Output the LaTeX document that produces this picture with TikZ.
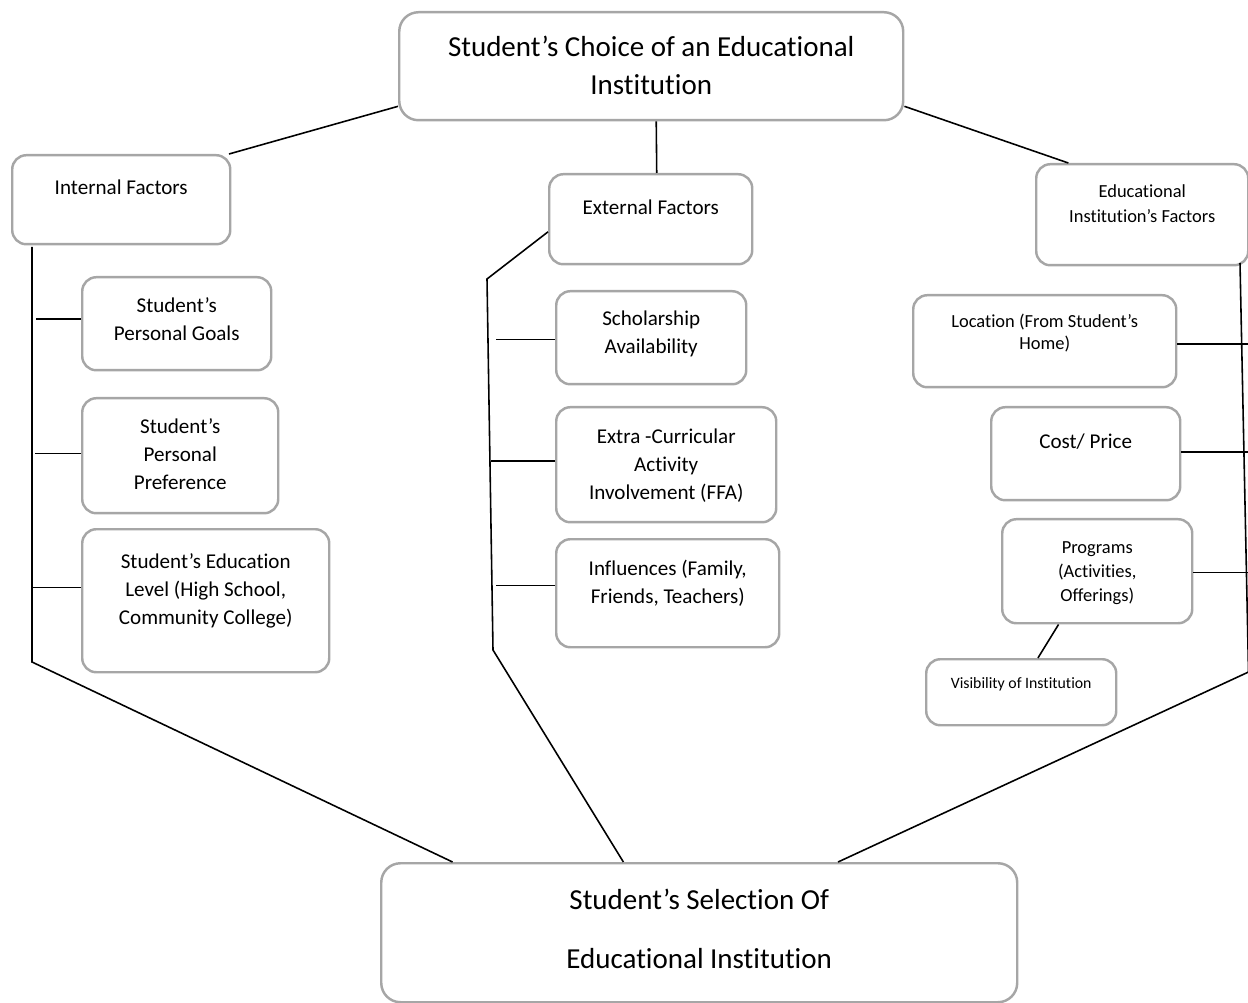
\documentclass[tikz,border=0pt]{standalone}
\usepackage{fontspec}
\setmainfont{Carlito}[Ligatures={NoCommon}]
\usetikzlibrary{calc}
\definecolor{boxgray}{HTML}{A6A6A6}
\newdimen\px
\px=0.02cm
\newcommand{\boxtext}[4]{\parbox[c][#2\px][t]{#1\px}{\centering\rule{0pt}{#3\px}#4}}
\tikzset{
  box/.style={draw=boxgray, line width=1.4pt, fill=white, rounded corners=8pt, inner sep=0pt, anchor=north west},
  bigbox/.style={box, rounded corners=11pt, font=\fontsize{16.5}{21.6}\selectfont},
  midbox/.style={box, font=\fontsize{12}{15.9}\selectfont},
  smallbox/.style={box, font=\fontsize{10.5}{13.9}\selectfont},
  link/.style={line width=0.9pt}
}
\begin{document}
\begin{tikzpicture}[x=0.02cm, y=-0.02cm]
	\useasboundingbox (0,0) rectangle (1248,1003);
	\clip (0,0) rectangle (1248,1003);
	\node[bigbox] (choice) at (398,11) {\boxtext{504}{108}{44}{Student’s Choice of an Educational\\Institution}};
	\node[midbox] (intf) at (11,154) {\boxtext{218}{89}{39}{Internal Factors}};
	\node[midbox] (extf) at (548,173) {\boxtext{203}{90}{40}{External Factors}};
	\node[smallbox, font=\fontsize{10.5}{14.2}\selectfont] (instf) at (1035,163) {\boxtext{212}{101}{33}{Educational\\Institution’s Factors}};
	\node[midbox] (goals) at (81,276) {\boxtext{189}{93}{35}{Student’s\\Personal Goals}};
	\node[midbox] (pref) at (81,397) {\boxtext{196}{115}{35}{Student’s\\Personal\\Preference}};
	\node[midbox] (level) at (81,528) {\boxtext{247}{143}{39}{Student’s Education\\Level (High School,\\Community College)}};
	\node[midbox] (schol) at (555,290) {\boxtext{190}{93}{34}{Scholarship\\Availability}};
	\node[midbox] (extra) at (555,406) {\boxtext{220}{115}{36}{Extra -Curricular\\Activity\\Involvement (FFA)}};
	\node[midbox] (infl) at (555,538) {\boxtext{223}{108}{36}{Influences (Family,\\Friends, Teachers)}};
	\node[smallbox, font=\fontsize{10.5}{12.5}\selectfont] (loc) at (912,294) {\boxtext{263}{92}{32}{Location (From Student’s\\Home)}};
	\node[midbox] (cost) at (990,406) {\boxtext{189}{93}{41}{Cost/ Price}};
	\node[smallbox, font=\fontsize{10.5}{13.6}\selectfont] (prog) at (1001,518) {\boxtext{190}{104}{34}{Programs\\(Activities,\\Offerings)}};
	\node[smallbox, font=\fontsize{9}{11}\selectfont] (vis) at (925,658) {\boxtext{190}{66}{29.5}{Visibility of Institution}};
	\node[bigbox, font=\fontsize{16.5}{34}\selectfont] (sel) at (380,862) {\boxtext{636}{139}{46}{Student’s Selection Of\\Educational Institution}};
	\coordinate (ltop) at (32,247);
	\coordinate (lbot) at (32,662);
	\coordinate (etop) at (487,279);
	\coordinate (ebot) at (493,650);
	\coordinate (rtop) at (1240,263);
	\coordinate (rbot) at (1248.5,672);
	\draw[link] (choice.189) -- (intf.23);
	\draw[link] ($(choice.south)+(5,0)$) -- ($(extf.north)+(6,0)$);
	\draw[link] (choice.351) -- (instf.145);
	\draw[link] (ltop) -- (lbot) -- (sel.164);
	\draw[link] (extf.187) -- (etop) -- (ebot) -- (sel.137);
	\draw[link] (rtop) -- (rbot) -- (sel.27);
	\draw[link] (prog.234) -- (vis.64);
	\draw[link] ($(goals.north west)!.45!(goals.south west)$) -- ++(-45,0);
	\draw[link] ($(pref.north west)!.48!(pref.south west)$) -- ++(-46,0);
	\draw[link] ($(level.north west)!.41!(level.south west)$) -- ++(-49,0);
	\draw[link] ($(schol.north west)!.52!(schol.south west)$) -- ++(-59,0);
	\draw[link] ($(extra.north west)!.47!(extra.south west)$) -- ++(-64,0);
	\draw[link] ($(infl.north west)!.43!(infl.south west)$) -- ++(-59,0);
	\draw[link] ($(loc.north east)!.53!(loc.south east)$) -- ++(80,0);
	\draw[link] ($(cost.north east)!.48!(cost.south east)$) -- ++(80,0);
	\draw[link] ($(prog.north east)!.51!(prog.south east)$) -- ++(80,0);
\end{tikzpicture}
\end{document}
